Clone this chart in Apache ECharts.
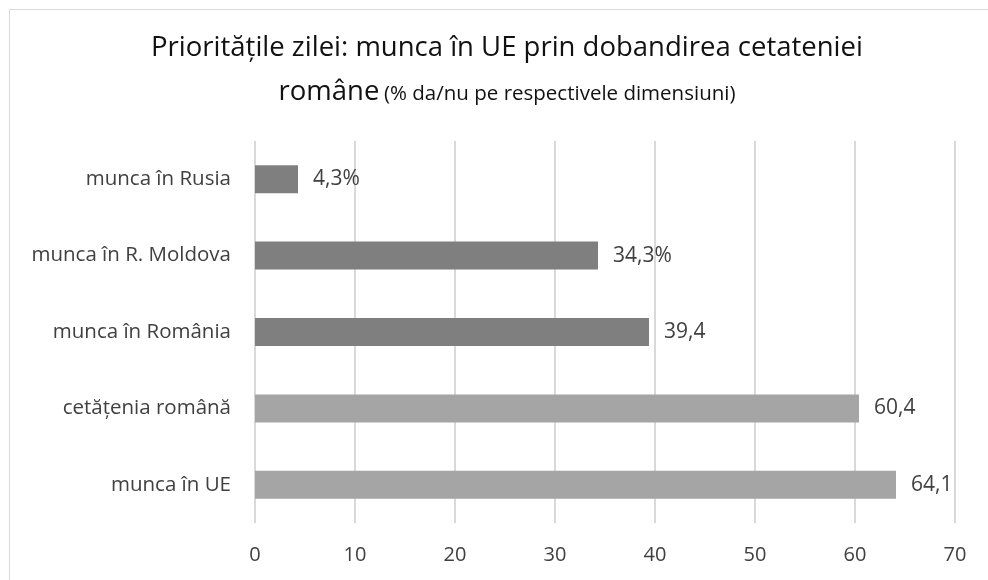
<!DOCTYPE html>
<html>
<head>
<meta charset="utf-8">
<script src="https://cdn.jsdelivr.net/npm/echarts@6/dist/echarts.min.js"></script>
<style>
  html, body { margin: 0; padding: 0; background: #fff; }
  #chart { width: 988px; height: 580px; }
</style>
</head>
<body>
<div id="chart"></div>
<script>
// categories bottom -> top
var categories = ['munca în UE', 'cetățenia română', 'munca în România', 'munca în R. Moldova', 'munca în Rusia'];
var values = [64.1, 60.4, 39.4, 34.3, 4.3];
var labelSuffix = ['', '', '', '%', '%'];
var xTicks = [0, 10, 20, 30, 40, 50, 60, 70];

var chartDom = document.getElementById('chart');
var myChart = echarts.init(chartDom);
var font = '"Open Sans", "Noto Sans", sans-serif';

var option = {
  backgroundColor: '#fff',
  animation: false,
  textStyle: { fontFamily: font },
  graphic: [{
    type: 'rect',
    shape: { x: 9.5, y: 9.5, width: 1000, height: 600 },
    style: { fill: 'none', stroke: '#d9d9d9', lineWidth: 1 }
  }],
  title: [{
    left: 502,
    textAlign: 'center',
    top: 29,
    text: 'Prioritățile zilei: munca în UE prin dobandirea cetateniei',
    textStyle: { fontFamily: font, fontSize: 27.5, fontWeight: 'normal', color: '#111' }
  }, {
    left: 502,
    textAlign: 'center',
    top: 68,
    text: '{big|române} {small|(% da/nu pe respectivele dimensiuni)}',
    textStyle: {
      fontFamily: font,
      fontWeight: 'normal',
      rich: {
        big: { fontFamily: font, fontSize: 27.5, color: '#111', lineHeight: 38 },
        small: { fontFamily: font, fontSize: 20.5, color: '#111', lineHeight: 38, padding: [4, 0, 0, 0] }
      }
    }
  }],
  grid: { left: 255, right: 33, top: 141, bottom: 57, containLabel: false },
  xAxis: {
    type: 'value',
    min: xTicks[0],
    max: xTicks[xTicks.length - 1],
    interval: 10,
    axisLine: { show: false },
    axisTick: { show: false },
    splitLine: { lineStyle: { color: '#d9d9d9', width: 2 } },
    axisLabel: { color: '#404040', fontSize: 20, margin: 22, fontFamily: font }
  },
  yAxis: {
    type: 'category',
    data: categories,
    axisLine: { show: false },
    axisTick: { show: false },
    axisLabel: { color: '#404040', fontSize: 20.5, margin: 24, fontFamily: font }
  },
  series: [{
    type: 'bar',
    barWidth: 28,
    data: values,
    itemStyle: {
      color: function (p) { return p.dataIndex < 2 ? '#a5a5a5' : '#7f7f7f'; }
    },
    label: {
      show: true,
      position: 'right',
      distance: 15,
      color: '#404040',
      fontSize: 21,
      fontFamily: font,
      formatter: function (p) {
        return String(p.value).replace('.', ',') + labelSuffix[p.dataIndex];
      }
    }
  }]
};
myChart.setOption(option);
</script>
</body>
</html>
